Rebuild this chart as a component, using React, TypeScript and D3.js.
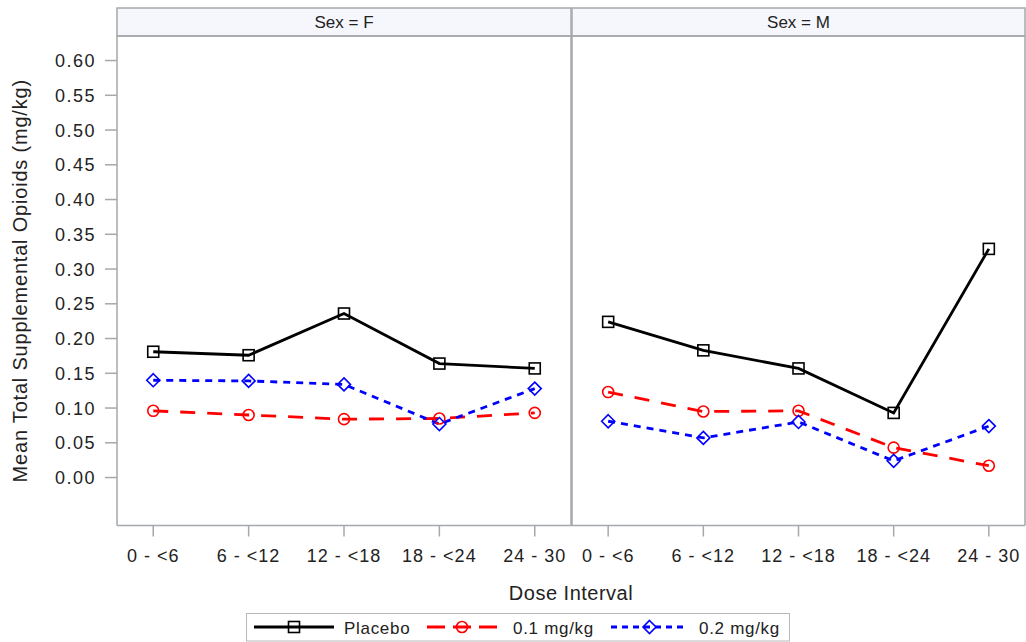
import React from "react";
import * as d3 from "d3";

const categories = ["0 - <6", "6 - <12", "12 - <18", "18 - <24", "24 - 30"];
const panels = ["F", "M"];
const placeboF = [0.181, 0.176, 0.236, 0.164, 0.157];
const lowF = [0.096, 0.09, 0.084, 0.085, 0.093];
const highF = [0.14, 0.139, 0.134, 0.077, 0.128];
const placeboM = [0.224, 0.183, 0.157, 0.093, 0.329];
const lowM = [0.123, 0.095, 0.096, 0.043, 0.017];
const highM = [0.081, 0.057, 0.08, 0.024, 0.074];
const yTicks = d3.range(0, 0.6001, 0.05);
const seriesNames = ["Placebo", "0.1 mg/kg", "0.2 mg/kg"];

const W = 1026;
const H = 642;
const top = 36;
const bottom = 525.5;
const headerTop = 8;
const panelX = [
  [117, 571],
  [572, 1025],
];
const axisColor = "#a5a8ad";
const FONT = "'Liberation Sans', Arial, sans-serif";

const styles = [
  { color: "#000000", dash: "none", legendDash: "none", marker: "square" },
  { color: "#ff0000", dash: "15,12", legendDash: "18,8", marker: "circle" },
  { color: "#0000ff", dash: "7,6", legendDash: "6,5", marker: "diamond" },
];

function Marker({ type, x, y, color }: { type: string; x: number; y: number; color: string }) {
  if (type === "square")
    return <rect x={x - 5.5} y={y - 5.5} width={11} height={11} fill="none" stroke={color} strokeWidth={1.6} />;
  if (type === "circle") return <circle cx={x} cy={y} r={5.5} fill="none" stroke={color} strokeWidth={1.6} />;
  const s = 6.5;
  return (
    <path
      d={`M${x},${y - s}L${x + s},${y}L${x},${y + s}L${x - s},${y}Z`}
      fill="none"
      stroke={color}
      strokeWidth={1.6}
    />
  );
}

export default function App() {
  const y = d3.scaleLinear().domain([-0.069, 0.6353]).range([bottom, top]);
  const data: Record<string, number[][]> = {
    F: [placeboF, lowF, highF],
    M: [placeboM, lowM, highM],
  };

  return (
    <svg
      width={W}
      height={H}
      style={{ position: "absolute", left: 0, top: 0, background: "#fff" }}
      fontFamily={FONT}
    >
      {panels.map((p, pi) => {
        const [x0, x1] = panelX[pi];
        const x = d3.scalePoint<string>().domain(categories).range([x0, x1]).padding(0.38);
        const line = d3
          .line<number>()
          .x((_, i) => x(categories[i]) as number)
          .y((v) => y(v));
        return (
          <g key={p}>
            <rect x={x0} y={headerTop} width={x1 - x0} height={top - headerTop} fill="#f6f6fd" stroke={axisColor} strokeWidth={1.5} />
            <text x={(x0 + x1) / 2} y={(headerTop + top) / 2 + 6} textAnchor="middle" fontSize={17} fill="#222">
              {`Sex = ${p}`}
            </text>
            {data[p].map((vals, si) => (
              <path
                key={si}
                d={line(vals) as string}
                fill="none"
                stroke={styles[si].color}
                strokeWidth={2.8}
                strokeDasharray={styles[si].dash}
              />
            ))}
            {data[p].map((vals, si) =>
              vals.map((v, i) => (
                <Marker key={`${si}-${i}`} type={styles[si].marker} x={x(categories[i]) as number} y={y(v)} color={styles[si].color} />
              ))
            )}
            {categories.map((c) => (
              <g key={c}>
                <line x1={x(c)} x2={x(c)} y1={bottom} y2={bottom + 11} stroke={axisColor} strokeWidth={1.5} />
                <text x={x(c)} y={bottom + 36} textAnchor="middle" fontSize={18} letterSpacing={1} fill="#222">
                  {c}
                </text>
              </g>
            ))}
          </g>
        );
      })}
      {/* frames */}
      <line x1={117} x2={117} y1={top} y2={bottom} stroke={axisColor} strokeWidth={1.5} />
      <line x1={571.5} x2={571.5} y1={top} y2={bottom} stroke={axisColor} strokeWidth={2.5} />
      <line x1={1025} x2={1025} y1={top} y2={bottom} stroke={axisColor} strokeWidth={1.5} />
      <line x1={117} x2={1025} y1={bottom} y2={bottom} stroke={axisColor} strokeWidth={1.5} />
      <line x1={117} x2={1025} y1={top} y2={top} stroke={axisColor} strokeWidth={1.5} />
      {yTicks.map((t) => (
        <g key={t}>
          <line x1={105} x2={117} y1={y(t)} y2={y(t)} stroke={axisColor} strokeWidth={1.5} />
          <text x={96} y={y(t) + 6.5} textAnchor="end" fontSize={18} letterSpacing={1.5} fill="#222">
            {d3.format(".2f")(t)}
          </text>
        </g>
      ))}
      <text
        transform={`translate(27,${(top + bottom) / 2}) rotate(-90)`}
        textAnchor="middle"
        fontSize={20}
        letterSpacing={0.8}
        fill="#222"
      >
        Mean Total Supplemental Opioids (mg/kg)
      </text>
      <text x={571} y={600} textAnchor="middle" fontSize={20} letterSpacing={0.5} fill="#222">
        Dose Interval
      </text>
      {/* legend */}
      <rect x={246.5} y={613.5} width={543} height={27.5} fill="none" stroke="#b5b8bc" strokeWidth={1} />
      {seriesNames.map((n, i) => {
        const lx = [254, 427, 611][i];
        const tx = [344, 513, 699][i];
        const lw = [80, 70, 77][i];
        const st = styles[i];
        return (
          <g key={n}>
            <line x1={lx} x2={lx + lw} y1={627} y2={627} stroke={st.color} strokeWidth={2.8} strokeDasharray={st.legendDash} />
            <Marker type={st.marker} x={lx + lw / 2} y={627} color={st.color} />
            <text x={tx} y={633.5} fontSize={17} letterSpacing={0.7} fill="#222">
              {n}
            </text>
          </g>
        );
      })}
    </svg>
  );
}
